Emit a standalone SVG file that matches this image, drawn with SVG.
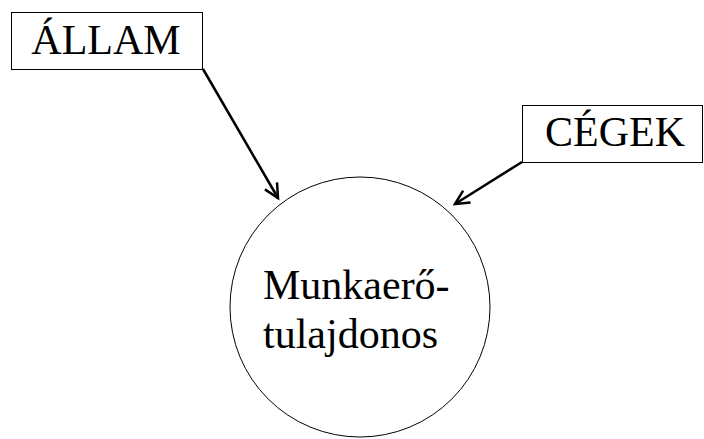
<svg xmlns="http://www.w3.org/2000/svg" width="704" height="439" viewBox="0 0 704 439">
<style>
.box{fill:#fff;stroke:#000;stroke-width:1}
.t{font-family:"Liberation Serif","Times New Roman",serif;font-size:42px;fill:#000}
.c{stroke:#000;stroke-width:2.5;fill:none}
</style>
<defs>
<marker id="ah" markerWidth="10" markerHeight="10" refX="8" refY="5" orient="auto" markerUnits="userSpaceOnUse" viewBox="0 0 10 10">
<path d="M0,0 L8,5 L0,10" fill="none" stroke="#000" stroke-width="2.5"/>
</marker>
<marker id="ah2" markerWidth="20" markerHeight="20" refX="17" refY="10" orient="auto" markerUnits="userSpaceOnUse" viewBox="0 0 20 20">
<path d="M3,3 L17,10 L3,17" fill="none" stroke="#000" stroke-width="2.5"/>
</marker>
</defs>
<rect width="704" height="439" fill="#fff"/>
<g id="connectors">
<line class="c" x1="203" y1="69" x2="278" y2="198" marker-end="url(#ah2)"/>
<line class="c" x1="522" y1="162" x2="455" y2="204" marker-end="url(#ah2)"/>
</g>
<g id="allam">
<rect class="box" x="11.5" y="12.5" width="191" height="57"/>
<text class="t" x="106" y="54" text-anchor="middle">ÁLLAM</text>
</g>
<g id="cegek">
<rect class="box" x="522.5" y="105.5" width="180" height="57"/>
<text class="t" x="615" y="146" text-anchor="middle">CÉGEK</text>
</g>
<g id="munkaero">
<circle cx="360" cy="307" r="130" fill="#fff" stroke="#000" stroke-width="1"/>
<text class="t" x="263" y="299">Munkaerő-</text>
<text class="t" x="263" y="348">tulajdonos</text>
</g>
</svg>
